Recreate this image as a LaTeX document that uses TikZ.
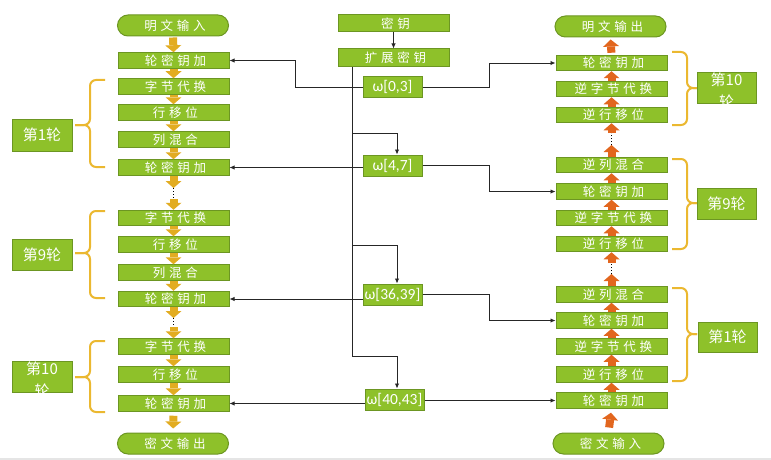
\documentclass[tikz,border=0pt]{standalone}
\usepackage{fontspec}
\setmainfont{Carlito}
\newfontfamily\cjk[LetterSpace=30]{Noto Sans CJK SC}
\newfontfamily\cjkb{Noto Sans CJK SC}
\usetikzlibrary{arrows.meta,calc}
\definecolor{bgreen}{RGB}{142,193,42}
\definecolor{bedge}{RGB}{108,150,34}
\definecolor{gold}{RGB}{226,172,33}
\definecolor{orng}{RGB}{226,102,30}
\definecolor{brc}{RGB}{235,184,48}
\newcommand\zz[1]{\kern.30em#1}
\tikzset{
  stepbox/.style={draw=bedge, line width=1pt, fill=bgreen, minimum width=111pt, minimum height=15.5pt, inner sep=0pt, text=white, font={\fontsize{12.5}{12.5}\cjk}},
  stadium/.style={stepbox, rounded corners=10.5pt, minimum height=21pt},
  wbox/.style={draw=bedge, line width=1pt, fill=bgreen, minimum width=59pt, minimum height=21pt, inner sep=0pt, text=white, font={\fontsize{15.5}{15.5}\selectfont}},
  roundbox/.style={draw=bedge, line width=1pt, fill=bgreen, minimum width=60pt, minimum height=31pt, inner sep=0pt, text=white, font={\fontsize{15}{15}\cjkb}},
  roundtxt/.style={text=white, inner sep=0pt, align=center, font={\fontsize{15}{22}\cjkb}},
  garrow/.style={draw=gold, line width=8pt, -{Triangle[width=16pt,length=7pt,line width=0pt]}},
  oarrow/.style={draw=orng, line width=8pt, -{Triangle[width=16pt,length=7pt,line width=0pt]}},
  dotline/.style={draw=black, line width=1.3pt, dash pattern=on 1.3pt off 1.7pt},
  conn/.style={draw=black!85, line width=0.9pt, -{Latex[length=5pt,width=4.5pt]}},
  trunk/.style={draw=black!85, line width=0.9pt},
  brace/.style={draw=brc, line width=2pt, rounded corners=6pt}
}
\begin{document}
\begin{tikzpicture}[x=1pt,y=-1pt]
\fill[white] (0,0) rectangle (771,460);
\useasboundingbox (0,0) rectangle (771,460);
\fill[black!10] (0,457.5) rectangle (771,460);

% ---------- left column (encryption)
\node[stadium] (Lin) at (173,25.5) {\zz{明文输入}};
\node[stepbox] (L1) at (173.5,60.5) {\zz{轮密钥加}};
\node[stepbox] (L2) at (173.5,86.5) {\zz{字节代换}};
\node[stepbox] (L3) at (173.5,112.5) {\zz{行移位}};
\node[stepbox] (L4) at (173.5,139.5) {\zz{列混合}};
\node[stepbox] (L5) at (173.5,167.5) {\zz{轮密钥加}};
\node[stepbox] (L6) at (173.5,218) {\zz{字节代换}};
\node[stepbox] (L7) at (173.5,244.5) {\zz{行移位}};
\node[stepbox] (L8) at (173.5,272.5) {\zz{列混合}};
\node[stepbox] (L9) at (173.5,299) {\zz{轮密钥加}};
\node[stepbox] (L10) at (173.5,346.5) {\zz{字节代换}};
\node[stepbox] (L11) at (173.5,374.5) {\zz{行移位}};
\node[stepbox] (L12) at (173.5,403.5) {\zz{轮密钥加}};
\node[stadium] (Lout) at (173,443.5) {\zz{密文输出}};

\coordinate (dl1a) at (173.5,188);
\coordinate (dl1b) at (173.5,199);
\coordinate (dl2a) at (173.5,318);
\coordinate (dl2b) at (173.5,327);

\draw[garrow, shorten <=1pt] (Lin.south) -- (L1.north);
\draw[garrow] (L1.south) -- (L2.north);
\draw[garrow] (L2.south) -- (L3.north);
\draw[garrow] (L3.south) -- (L4.north);
\draw[garrow] (L4.south) -- (L5.north);
\draw[garrow] (L5.south) -- (dl1a);
\draw[dotline] (dl1a) -- (dl1b);
\draw[garrow] (dl1b) -- (L6.north);
\draw[garrow] (L6.south) -- (L7.north);
\draw[garrow] (L7.south) -- (L8.north);
\draw[garrow] (L8.south) -- (L9.north);
\draw[garrow] (L9.south) -- (dl2a);
\draw[dotline] (dl2a) -- (dl2b);
\draw[garrow] (dl2b) -- (L10.north);
\draw[garrow] (L10.south) -- (L11.north);
\draw[garrow] (L11.south) -- (L12.north);
\draw[garrow, shorten <=4pt, shorten >=4pt] (L12.south) -- (Lout.north);

% left braces and round labels
\draw[brace] (105,80) -- (90,80) -- (90,125) -- (75,125);
\draw[brace] (105,167) -- (90,167) -- (90,125) -- (75,125);
\draw[brace] (105,211) -- (90,211) -- (90,253) -- (75,253);
\draw[brace] (105,298) -- (90,298) -- (90,253) -- (75,253);
\draw[brace] (105,341) -- (90,341) -- (90,377) -- (75,377);
\draw[brace] (105,412) -- (90,412) -- (90,377) -- (75,377);

\node[roundbox, minimum height=32pt] (Lr1) at (42,135) {第1轮};
\node[roundbox] (Lr9) at (42,254.5) {第9轮};
\node[roundbox] (Lr10) at (42,376.5) {};
\begin{scope}
\clip (Lr10.south west) rectangle (Lr10.north east);
\node[roundtxt] (Lr10t) at ($(Lr10.center)+(0,3.5)$) {第10\\轮};
\end{scope}

% ---------- key schedule
\node[stepbox, minimum height=17pt] (K) at (393.5,23.5) {\zz{密钥}};
\node[stepbox, minimum height=18pt] (E) at (393.5,58) {\zz{扩展密钥}};
\node[wbox, minimum height=20pt] (w03) at (392.5,87) {ω[0,3]};
\node[wbox] (w47) at (392.5,165.5) {ω[4,7]};
\node[wbox] (w3639) at (392.5,294.5) {ω[36,39]};
\node[wbox] (w4043) at (394.5,399.5) {ω[40,43]};

\coordinate (t1) at (352,133);
\coordinate (t2) at (352,245);
\coordinate (t3) at (352,356);

\draw[conn] (K.south) -- (E.north);
\draw[trunk] (E.south -| t1) -- (t3);
\draw[conn] (t1) -| ([xshift=4.5pt]w47.north);
\draw[conn] (t2) -| ([xshift=4.5pt]w3639.north);
\draw[conn] (t3) -| ([xshift=2.5pt]w4043.north);

% ---------- right column (decryption)
\node[stadium] (Rout) at (610.5,26.5) {\zz{明文输出}};
\node[stepbox] (R1) at (611.5,63) {\zz{轮密钥加}};
\node[stepbox] (R2) at (611.5,89) {\zz{逆字节代换}};
\node[stepbox] (R3) at (611.5,115) {\zz{逆行移位}};
\node[stepbox] (R4) at (611.5,165) {\zz{逆列混合}};
\node[stepbox] (R5) at (611.5,191.5) {\zz{轮密钥加}};
\node[stepbox] (R6) at (611.5,218) {\zz{逆字节代换}};
\node[stepbox] (R7) at (611.5,244) {\zz{逆行移位}};
\node[stepbox] (R8) at (611.5,294.5) {\zz{逆列混合}};
\node[stepbox] (R9) at (611.5,320.5) {\zz{轮密钥加}};
\node[stepbox] (R10) at (611.5,346.5) {\zz{逆字节代换}};
\node[stepbox] (R11) at (611.5,374.5) {\zz{逆行移位}};
\node[stepbox] (R12) at (611.5,400.5) {\zz{轮密钥加}};
\node[stadium] (Rin) at (608.5,443.5) {\zz{密文输入}};

\coordinate (dr1a) at (611.5,145);
\coordinate (dr1b) at (611.5,133);
\coordinate (dr2a) at (611.5,274);
\coordinate (dr2b) at (611.5,263);

\draw[oarrow, shorten <=5pt, shorten >=4pt] (Rin.north) -- (R12.south);
\draw[oarrow] (R12.north) -- (R11.south);
\draw[oarrow] (R11.north) -- (R10.south);
\draw[oarrow] (R10.north) -- (R9.south);
\draw[oarrow] (R9.north) -- (R8.south);
\draw[oarrow] (R8.north) -- (dr2a);
\draw[dotline] (dr2a) -- (dr2b);
\draw[oarrow] (dr2b) -- (R7.south);
\draw[oarrow] (R7.north) -- (R6.south);
\draw[oarrow] (R6.north) -- (R5.south);
\draw[oarrow] (R5.north) -- (R4.south);
\draw[oarrow] (R4.north) -- (dr1a);
\draw[dotline] (dr1a) -- (dr1b);
\draw[oarrow] (dr1b) -- (R3.south);
\draw[oarrow] (R3.north) -- (R2.south);
\draw[oarrow] (R2.north) -- (R1.south);
\draw[oarrow, shorten <=2pt, shorten >=2pt] (R1.north) -- (Rout.south);

% right braces and round labels
\draw[brace] (672,52) -- (687,52) -- (687,88) -- (697,88);
\draw[brace] (672,125) -- (687,125) -- (687,88) -- (697,88);
\draw[brace] (672,159) -- (687,159) -- (687,203) -- (697,203);
\draw[brace] (672,249) -- (687,249) -- (687,203) -- (697,203);
\draw[brace] (672,288) -- (687,288) -- (687,334) -- (697,334);
\draw[brace] (672,381) -- (687,381) -- (687,334) -- (697,334);

\node[roundbox, minimum width=59pt, minimum height=30pt] (Rr10) at (726.5,88) {};
\begin{scope}
\clip (Rr10.south west) rectangle (Rr10.north east);
\node[roundtxt] (Rr10t) at ($(Rr10.center)+(0,3)$) {第10\\轮};
\end{scope}
\node[roundbox, minimum width=59pt] (Rr9) at (726.5,203.5) {第9轮};
\node[roundbox, minimum width=59pt, minimum height=30pt] (Rr1) at (727.5,337) {第1轮};

% ---------- round key connectors
\draw[conn] (w03.west) -- ++(-67,0) |- (L1.east);
\draw[conn] (w03.east) -- ++(67,0) |- (R1.west);
\draw[conn] (w47.west |- L5.east) -- (L5.east);
\draw[conn] (w47.east) -- ++(67,0) |- (R5.west);
\draw[conn] (w3639.west |- L9.east) -- (L9.east);
\draw[conn] (w3639.east) -- ++(67,0) |- (R9.west);
\draw[conn] (w4043.west |- L12.east) -- (L12.east);
\draw[conn] (w4043.east |- R12.west) -- (R12.west);
\end{tikzpicture}
\end{document}
